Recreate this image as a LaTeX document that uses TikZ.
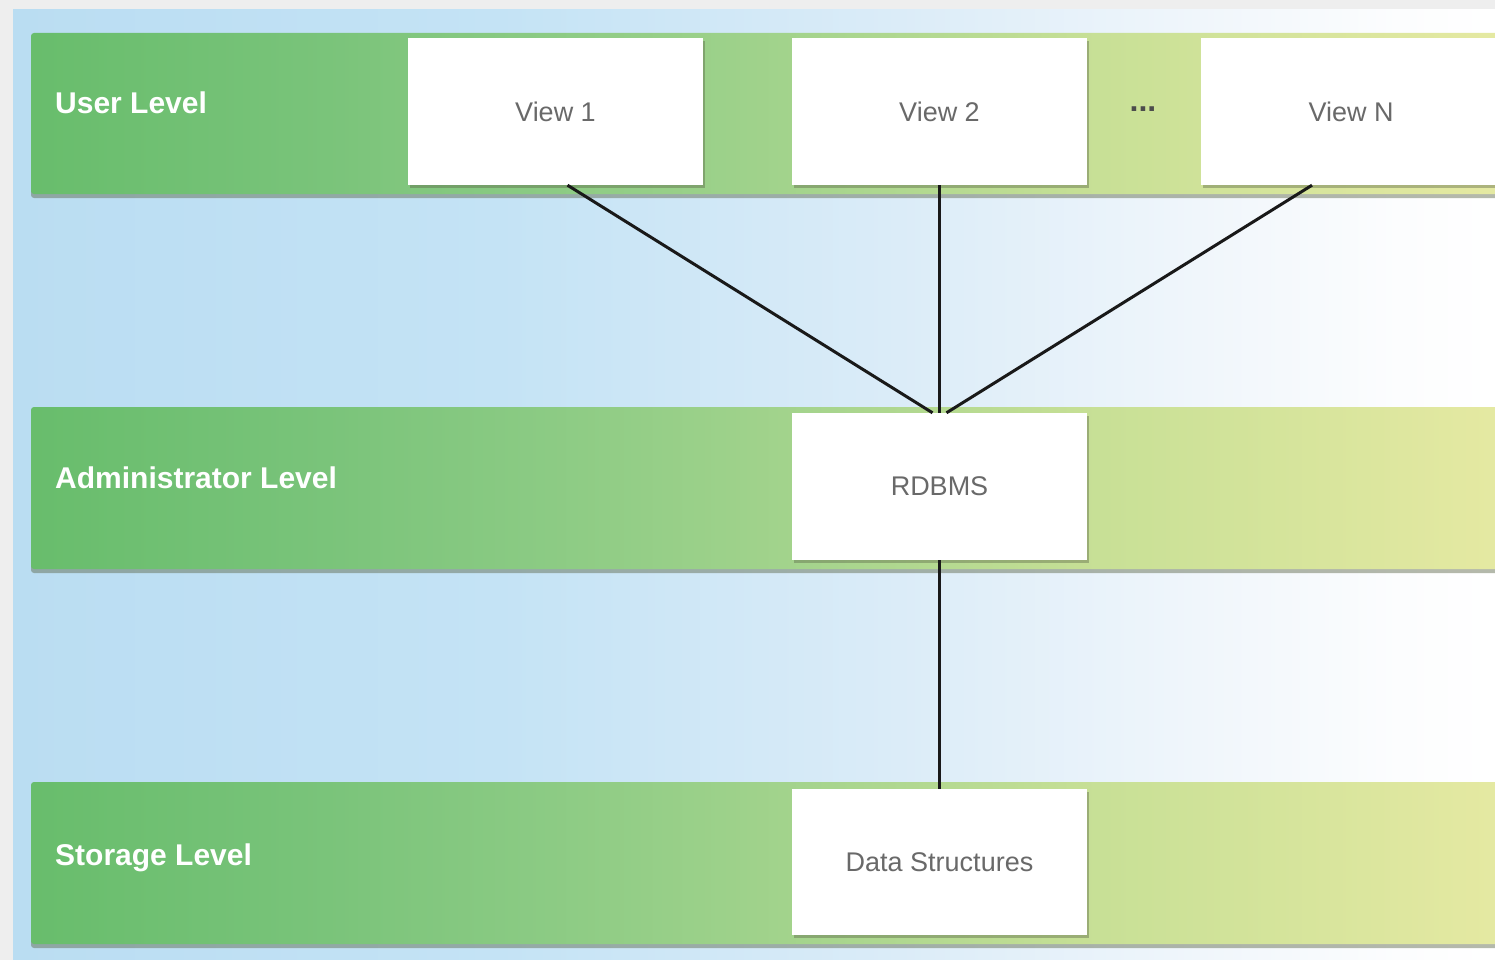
\documentclass[tikz,border=0pt]{standalone}
\usepackage{fontspec}
\setmainfont{Liberation Sans}
\usetikzlibrary{shadows,calc}
\definecolor{framegray}{HTML}{EEEEEE}
\definecolor{bgA}{RGB}{186,221,242}
\definecolor{bgB}{RGB}{196,227,245}
\definecolor{bgC}{RGB}{219,236,248}
\definecolor{bgD}{RGB}{240,246,251}
\definecolor{bgE}{RGB}{252,253,254}
\definecolor{bnA}{RGB}{104,189,108}
\definecolor{bnB}{RGB}{120,195,121}
\definecolor{bnC}{RGB}{140,203,132}
\definecolor{bnD}{RGB}{162,211,140}
\definecolor{bnE}{RGB}{200,224,150}
\definecolor{bnF}{RGB}{229,233,162}
\definecolor{boxtext}{RGB}{105,105,105}
\definecolor{shadowc}{RGB}{90,100,70}
\pgfdeclarehorizontalshading{bgshade}{100bp}{color(0bp)=(bgA); color(25bp)=(bgA); color(41.4bp)=(bgB); color(54.9bp)=(bgC); color(65bp)=(bgD); color(71.8bp)=(bgE); color(75bp)=(white); color(100bp)=(white)}
\pgfdeclarehorizontalshading{bandshade}{100bp}{color(0bp)=(bnA); color(25bp)=(bnA); color(34.2bp)=(bnB); color(42.7bp)=(bnC); color(50.6bp)=(bnD); color(61.5bp)=(bnE); color(75bp)=(bnF); color(100bp)=(bnF)}
\newcommand\lvlfont{\fontsize{30}{36}\selectfont\bfseries}
\newcommand\bxfont{\fontsize{27}{32}\selectfont}
\tikzset{
  band/.style={shade, shading=bandshade, rounded corners=3pt,
    drop shadow={shadow xshift=0pt, shadow yshift=-4pt, opacity=0.45, fill=shadowc}},
  viewbox/.style={fill=white, minimum width=295pt, minimum height=147pt,
    inner sep=0pt, font=\bxfont, text=boxtext,
    drop shadow={shadow xshift=2pt, shadow yshift=-3pt, opacity=0.4, fill=shadowc}},
  levellabel/.style={anchor=base west, text=white, font=\lvlfont, inner sep=0pt},
  link/.style={line width=3pt, draw=black!90}
}
\begin{document}
\begin{tikzpicture}[x=1pt, y=-1pt]
\useasboundingbox (0,0) rectangle (1495,960);
% frame and background
\fill[framegray] (0,0) rectangle (1495,960);
\path[shade, shading=bgshade] (13,10) rectangle (1495,960);
% bands
\path[band] (31,33) rectangle (1500,194);
\path[band] (31,407) rectangle (1500,569);
\path[band] (31,782) rectangle (1500,944);
% level labels
\node[levellabel] (lu) at (55,114) {User Level};
\node[levellabel] (la) at (55,488) {Administrator Level};
\node[levellabel] (ls) at (55,865) {Storage Level};
% boxes
\node[viewbox] (v1) at (555.5,111.5) {View 1};
\node[viewbox] (v2) at (939.5,111.5) {View 2};
\node[viewbox, minimum width=300pt] (vn) at (1351,111.5) {View N};
\node[font=\fontsize{32}{36}\selectfont\bfseries, text=black!70, inner sep=0pt] (dots) at (1143,109) {...};
\node[viewbox] (rd) at (939.5,486.5) {RDBMS};
\node[viewbox, minimum height=146pt] (ds) at (939.5,862) {Data Structures};
% connectors
\draw[link] ([xshift=12pt]v1.south) -- ([xshift=-7pt]rd.north);
\draw[link] (v2.south) -- (rd.north);
\draw[link] ([xshift=-39pt]vn.south) -- ([xshift=7pt]rd.north);
\draw[link] (rd.south) -- (ds.north);
\end{tikzpicture}
\end{document}
